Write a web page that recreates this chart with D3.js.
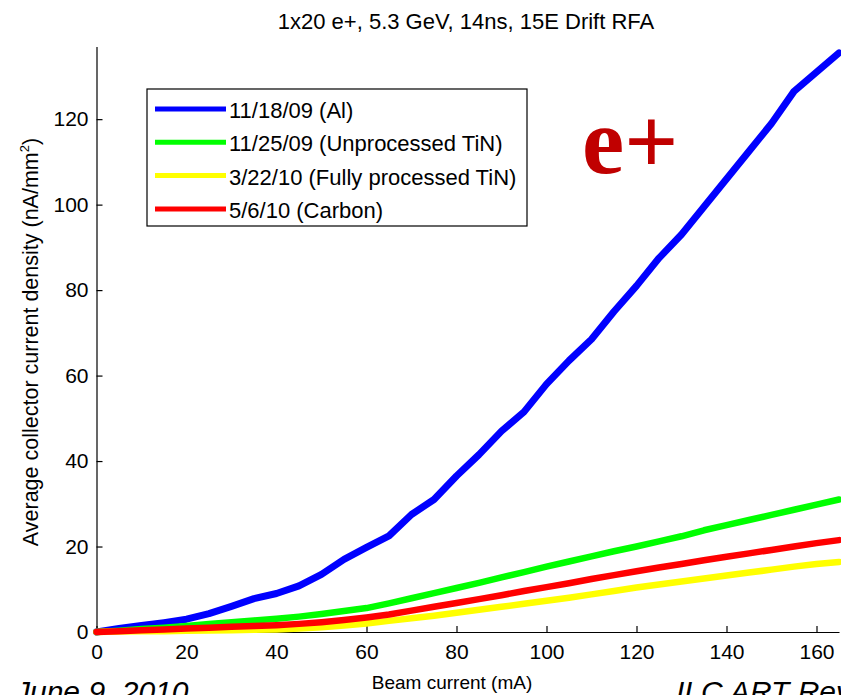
<!DOCTYPE html>
<html>
<head>
<meta charset="utf-8">
<script src="https://cdn.jsdelivr.net/npm/d3@7/dist/d3.min.js"></script>
<style>
  html, body { margin: 0; padding: 0; background: #fff; overflow: hidden; }
  svg { display: block; }
</style>
</head>
<body>
<script>
// Beam current (mA) sample points shared by every run
const beamCurrent = [0,5,10,15,20,25,30,35,40,45,50,55,60,65,70,75,80,85,90,95,100,105,110,115,120,125,130,135,140,145,150,155,160,165];

// Average collector current density (nA/mm²) per run
const al = [0,0.8,1.5,2.2,3.0,4.3,6.0,7.8,9.0,10.8,13.5,17.0,19.8,22.5,27.5,31.0,36.5,41.5,47.0,51.5,58.0,63.5,68.5,75.0,81.0,87.5,93.0,99.5,106.0,112.5,119.0,126.5,131.0,135.5];
const unprocessedTiN = [0,0.3,0.7,1.0,1.4,1.9,2.3,2.7,3.1,3.6,4.2,4.9,5.6,6.7,7.9,9.1,10.3,11.5,12.8,14.0,15.3,16.5,17.7,18.9,20.0,21.2,22.4,23.8,25.0,26.2,27.4,28.6,29.8,31.0];
const processedTiN = [0,0.1,0.15,0.2,0.3,0.35,0.4,0.5,0.6,0.8,1.1,1.5,2.0,2.6,3.2,3.8,4.5,5.2,5.9,6.6,7.3,8.0,8.8,9.6,10.4,11.1,11.8,12.5,13.2,13.9,14.6,15.3,15.9,16.4];
const carbon = [0,0.2,0.4,0.6,0.8,1.0,1.2,1.4,1.6,1.9,2.3,2.8,3.4,4.1,5.0,5.9,6.8,7.7,8.6,9.6,10.5,11.4,12.4,13.3,14.2,15.1,15.9,16.8,17.6,18.4,19.2,20.0,20.8,21.5];

const seriesNames = ["11/18/09 (Al)", "11/25/09 (Unprocessed TiN)", "3/22/10 (Fully processed TiN)", "5/6/10 (Carbon)"];
const seriesValues = [al, unprocessedTiN, processedTiN, carbon];
const seriesColors = ["#0000ff", "#00ff00", "#ffff00", "#ff0000"];

const xTicks = [0,20,40,60,80,100,120,140,160];
const yTicks = [0,20,40,60,80,100,120];

const titleText = "1x20 e+, 5.3 GeV, 14ns, 15E Drift RFA";
const xLabel = "Beam current (mA)";
const yLabel = "Average collector current density (nA/mm";

const SANS = "'Liberation Sans', Arial, Helvetica, sans-serif";
const SERIF = "'Liberation Serif', 'Times New Roman', serif";

const W = 841, H = 695;
const svg = d3.select("body").append("svg").attr("width", W).attr("height", H);

const x = d3.scaleLinear().domain([0, 165]).range([96.5, 839]);
const y = d3.scaleLinear().domain([0, 137]).range([632, 46.5]);

// Axes with inward ticks
const xAxis = svg.append("g").attr("transform", `translate(0,${y(0)})`)
  .call(d3.axisBottom(x).tickValues(xTicks).tickSizeInner(-6).tickSizeOuter(0).tickPadding(12));
const yAxis = svg.append("g").attr("transform", `translate(${x(0)},0)`)
  .call(d3.axisLeft(y).tickValues(yTicks).tickSizeInner(-6).tickSizeOuter(0).tickPadding(8));
[xAxis, yAxis].forEach(g => {
  g.select(".domain").attr("stroke", "#000").attr("stroke-width", 1.2);
  g.selectAll(".tick line").attr("stroke", "#000").attr("stroke-width", 1.2);
  g.selectAll(".tick text").style("font-family", SANS).style("font-size", "21px").attr("fill", "#000");
});

// Data curves
const line = d3.line().x((d, i) => x(beamCurrent[i])).y(d => y(d));
const plot = svg.append("g");
seriesValues.forEach((vals, k) => {
  plot.append("path")
    .datum(vals)
    .attr("d", line)
    .attr("fill", "none")
    .attr("stroke", seriesColors[k])
    .attr("stroke-width", k === 0 ? 7 : 6.5)
    .attr("stroke-linejoin", "round")
    .attr("stroke-linecap", "round");
});

function label(sel, size) {
  return sel.style("font-family", SANS).style("font-size", size + "px").attr("fill", "#000");
}

// Title
label(svg.append("text"), 22).attr("x", 466).attr("y", 29)
  .attr("text-anchor", "middle").text(titleText);

// Axis labels
label(svg.append("text"), 19).attr("x", 452).attr("y", 689)
  .attr("text-anchor", "middle").text(xLabel);
const yl = label(svg.append("text"), 21.5)
  .attr("transform", `translate(38,${y(0) - 290}) rotate(-90)`)
  .attr("text-anchor", "middle");
yl.append("tspan").text(yLabel);
yl.append("tspan").style("font-size", "13px").attr("dy", -9).text("2");
yl.append("tspan").attr("dy", 9).text(")");

// Legend
const lg = svg.append("g");
lg.append("rect").attr("x", 147).attr("y", 89).attr("width", 380).attr("height", 137)
  .attr("fill", "#fff").attr("stroke", "#000").attr("stroke-width", 1.2);
seriesNames.forEach((name, k) => {
  const cy = 109 + k * 33.3;
  lg.append("line").attr("x1", 155).attr("x2", 226).attr("y1", cy).attr("y2", cy)
    .attr("stroke", seriesColors[k]).attr("stroke-width", 5);
  label(lg.append("text"), 22).attr("x", 229).attr("y", cy + 9).text(name);
});

// Particle annotation
svg.append("text").attr("x", 582).attr("y", 173)
  .style("font-family", SERIF).style("font-weight", "bold").style("font-size", "95px")
  .attr("fill", "#c00000").text("e+");

// Footer
label(svg.append("text"), 30).attr("x", 15).attr("y", 702).style("font-style", "italic").text("June 9, 2010");
label(svg.append("text"), 30).attr("x", 676).attr("y", 702).style("font-style", "italic").text("ILC ART Review");
</script>
</body>
</html>
